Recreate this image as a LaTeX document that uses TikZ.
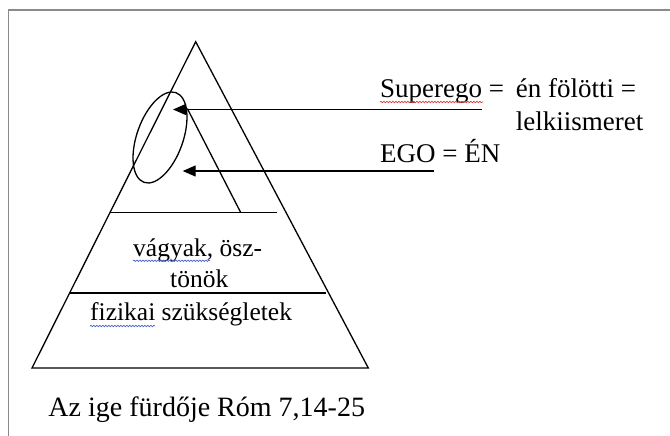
\documentclass[tikz,border=0pt]{standalone}
\usepackage{fontspec}
\setmainfont{Liberation Serif}
\usetikzlibrary{arrows.meta,shapes.geometric,decorations.pathmorphing}
\definecolor{framegray}{HTML}{8A8A8A}
\definecolor{spellred}{HTML}{E03A3A}
\definecolor{spellblue}{HTML}{4A63C8}
\begin{document}
\begin{tikzpicture}[x=1pt,y=-1pt,
  ln/.style={line width=1.3pt},
  arr/.style={line width=1.3pt,-{Triangle[length=13pt,width=11pt]}},
  lbl/.style={anchor=base west,inner sep=0pt,font=\fontsize{27}{32}\selectfont},
  plbl/.style={anchor=base west,inner sep=0pt,font=\fontsize{25.5}{30}\selectfont},
  blbl/.style={anchor=base west,inner sep=0pt,font=\fontsize{28}{33}\selectfont},
  squig/.style={line width=0.7pt,decorate,decoration={snake,amplitude=0.7pt,segment length=3pt}}]
\useasboundingbox (0,0) rectangle (670,436);
\fill[white] (0,0) rectangle (670,436);
% frame
\coordinate (ftr) at (670,10);
\coordinate (ftl) at (8.5,10);
\coordinate (fbl) at (8.5,436);
\draw[line width=1.5pt, framegray] (ftr) -- (ftl) -- (fbl);
% pyramid
\coordinate (apex) at (195.7,41.7);
\coordinate (bl) at (32,368);
\coordinate (br) at (368.3,368);
\draw[ln, line join=miter] (bl) -- (apex) -- (br) -- cycle;
\coordinate (h1l) at (110,212.5);
\coordinate (h1r) at (277,212.5);
\draw[ln] (h1l) -- (h1r);
\coordinate (h2l) at (69.5,293);
\coordinate (h2r) at (326,293);
\draw[ln] (h2l) -- (h2r);
\coordinate (d1) at (187.3,108.5);
\coordinate (d2) at (240.7,212.5);
\draw[ln] (d1) -- (d2);
% ellipse
\node[ellipse, draw, line width=1.3pt, minimum width=46.2pt, minimum height=95.2pt, inner sep=0pt, rotate=-19.6] (sup) at (160,137.5) {};
% arrows
\coordinate (supR) at (482,109.5);
\coordinate (supTip) at (173,109.5);
\draw[arr] (supR) -- (supTip);
\coordinate (egoR) at (434,171);
\coordinate (egoTip) at (182.7,171);
\draw[arr] (egoR) -- (egoTip);
% labels
\node[lbl] (t1) at (380,97.3) {Superego =};
\node[lbl] (t2) at (515.7,97.3) {én fölötti =};
\node[lbl] (t3) at (515.7,130) {lelkiismeret};
\node[lbl] (t4) at (380,162.7) {EGO = ÉN};
\node[plbl] (p1) at (133,256.7) {vágyak, ösz-};
\node[plbl] (p2) at (170,287) {tönök};
\node[plbl] (p3) at (90,320.7) {fizikai szükségletek};
\node[blbl] (b1) at (48.3,416.7) {Az ige fürdője Róm 7,14-25};
% spell-check underlines
\coordinate (s1a) at (380,102);
\coordinate (s1b) at (483,102);
\draw[squig, spellred] (s1a) -- (s1b);
\coordinate (s2a) at (133,260.8);
\coordinate (s2b) at (210,260.8);
\draw[squig, spellblue] (s2a) -- (s2b);
\coordinate (s3a) at (90,326);
\coordinate (s3b) at (155,326);
\draw[squig, spellblue] (s3a) -- (s3b);
\end{tikzpicture}
\end{document}
